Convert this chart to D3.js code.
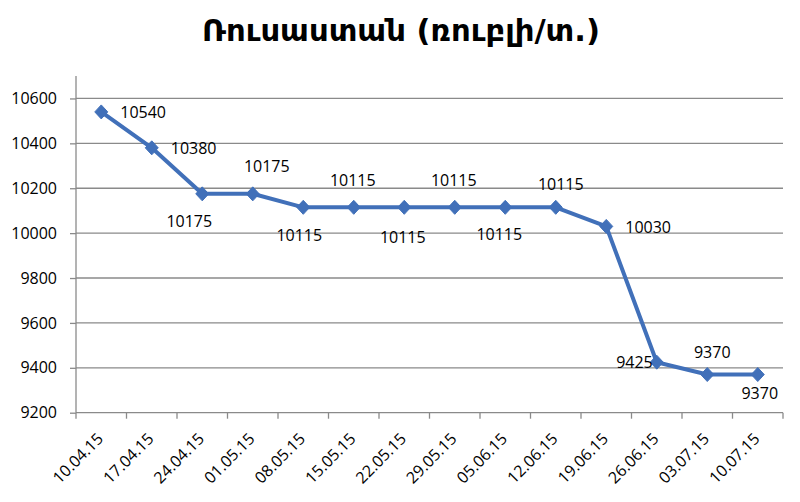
<!DOCTYPE html>
<html>
<head>
<meta charset="utf-8">
<script src="https://cdn.jsdelivr.net/npm/d3@7"></script>
<style>
  html, body { margin: 0; padding: 0; background: #ffffff; }
  svg { display: block; }
</style>
</head>
<body>
<svg id="chart" width="800" height="502"></svg>
<script>
// ---- data ----
const title = "Ռուսաստան (ռուբլի/տ.)";
const categories = ["10.04.15","17.04.15","24.04.15","01.05.15","08.05.15","15.05.15","22.05.15",
                    "29.05.15","05.06.15","12.06.15","19.06.15","26.06.15","03.07.15","10.07.15"];
const values = [10540, 10380, 10175, 10175, 10115, 10115, 10115, 10115, 10115, 10115, 10030, 9425, 9370, 9370];
const yTicks = [9200, 9400, 9600, 9800, 10000, 10200, 10400, 10600];

// ---- label layout (style, not data) ----
const labelLayout = [
  {anchor:"start",  dx: 19,  dy: 6},
  {anchor:"start",  dx: 19,  dy: 6},
  {anchor:"middle", dx: -13, dy: 33},
  {anchor:"middle", dx: 14,  dy: -22},
  {anchor:"middle", dx: -4,  dy: 34},
  {anchor:"middle", dx: -1,  dy: -21.5},
  {anchor:"middle", dx: -1.5,dy: 36},
  {anchor:"middle", dx: -1,  dy: -21.5},
  {anchor:"middle", dx: -6,  dy: 33},
  {anchor:"middle", dx: 5,   dy: -17},
  {anchor:"start",  dx: 19,  dy: 7},
  {anchor:"end",    dx: -4,  dy: 6},
  {anchor:"middle", dx: 5,   dy: -16.5},
  {anchor:"middle", dx: 2,   dy: 24}
];

const svg = d3.select("#chart");
const pLeft = 76, pRight = 783, pTop = 76, pBottom = 412.7;
const color = "#4170b9";
const font = "'Open Sans', 'Liberation Sans', sans-serif";

const x = d3.scaleBand().domain(categories).range([pLeft, pRight]).padding(0);
const y = d3.scaleLinear().domain([9200, 10700]).range([pBottom, pTop]);

// title
svg.append("text")
  .attr("x", 202).attr("y", 41)
  .attr("font-family", "'DejaVu Sans Condensed', 'DejaVu Sans', sans-serif")
  .attr("font-stretch", "condensed")
  .attr("font-weight", "bold")
  .attr("font-size", 31)
  .attr("fill", "#000")
  .attr("textLength", 398)
  .attr("lengthAdjust", "spacingAndGlyphs")
  .text(title);

// gridlines
svg.append("g").selectAll("line").data(yTicks.filter(v => v !== 9200)).join("line")
  .attr("x1", pLeft).attr("x2", pRight)
  .attr("y1", d => y(d)).attr("y2", d => y(d))
  .attr("stroke", "#8a8a8a").attr("stroke-width", 1.3);

// y axis
const yAxis = svg.append("g").attr("transform", `translate(${pLeft},0)`)
  .call(d3.axisLeft(y).tickValues(yTicks).tickSize(6).tickPadding(13).tickFormat(d3.format("d")));
yAxis.select(".domain").attr("stroke", "#8a8a8a").attr("stroke-width", 1.3).attr("d", `M0,${pTop}V${pBottom}`);
yAxis.selectAll(".tick line").attr("stroke", "#8a8a8a").attr("stroke-width", 1.3);
yAxis.selectAll(".tick text").attr("font-family", font).attr("font-size", 16).attr("fill", "#000");

// x axis
const xAxis = svg.append("g").attr("transform", `translate(0,${pBottom})`)
  .call(d3.axisBottom(x).tickSize(0).tickFormat(""));
xAxis.select(".domain").attr("stroke", "#8a8a8a").attr("stroke-width", 1.3).attr("d", `M${pLeft},0H${pRight}`);
const bounds = categories.map(c => x(c)).concat([x(categories[categories.length-1]) + x.bandwidth()]);
xAxis.append("g").selectAll("line").data(bounds).join("line")
  .attr("x1", d => d).attr("x2", d => d).attr("y1", 0).attr("y2", 6)
  .attr("stroke", "#8a8a8a").attr("stroke-width", 1.3);
svg.append("g").selectAll("text").data(categories).join("text")
  .attr("transform", d => `translate(${x(d) + x.bandwidth()/2 + 3},${pBottom + 27}) rotate(-45)`)
  .attr("text-anchor", "end")
  .attr("font-family", font).attr("font-size", 16).attr("fill", "#000")
  .text(d => d);

// line
const pts = categories.map((c, i) => [x(c) + x.bandwidth()/2, y(values[i])]);
svg.append("path")
  .attr("d", d3.line()(pts))
  .attr("fill", "none").attr("stroke", color).attr("stroke-width", 4)
  .attr("stroke-linejoin", "round");

// markers
svg.append("g").selectAll("path").data(pts).join("path")
  .attr("transform", d => `translate(${d[0]},${d[1]})`)
  .attr("d", "M0,-7L6.5,0L0,7L-6.5,0Z")
  .attr("fill", color).attr("stroke", color).attr("stroke-width", 1);

// data labels
svg.append("g").selectAll("text").data(values).join("text")
  .attr("x", (d, i) => pts[i][0] + labelLayout[i].dx)
  .attr("y", (d, i) => pts[i][1] + labelLayout[i].dy)
  .attr("text-anchor", (d, i) => labelLayout[i].anchor)
  .attr("font-family", font).attr("font-size", 16).attr("fill", "#000")
  .text(d => d);
</script>
</body>
</html>
